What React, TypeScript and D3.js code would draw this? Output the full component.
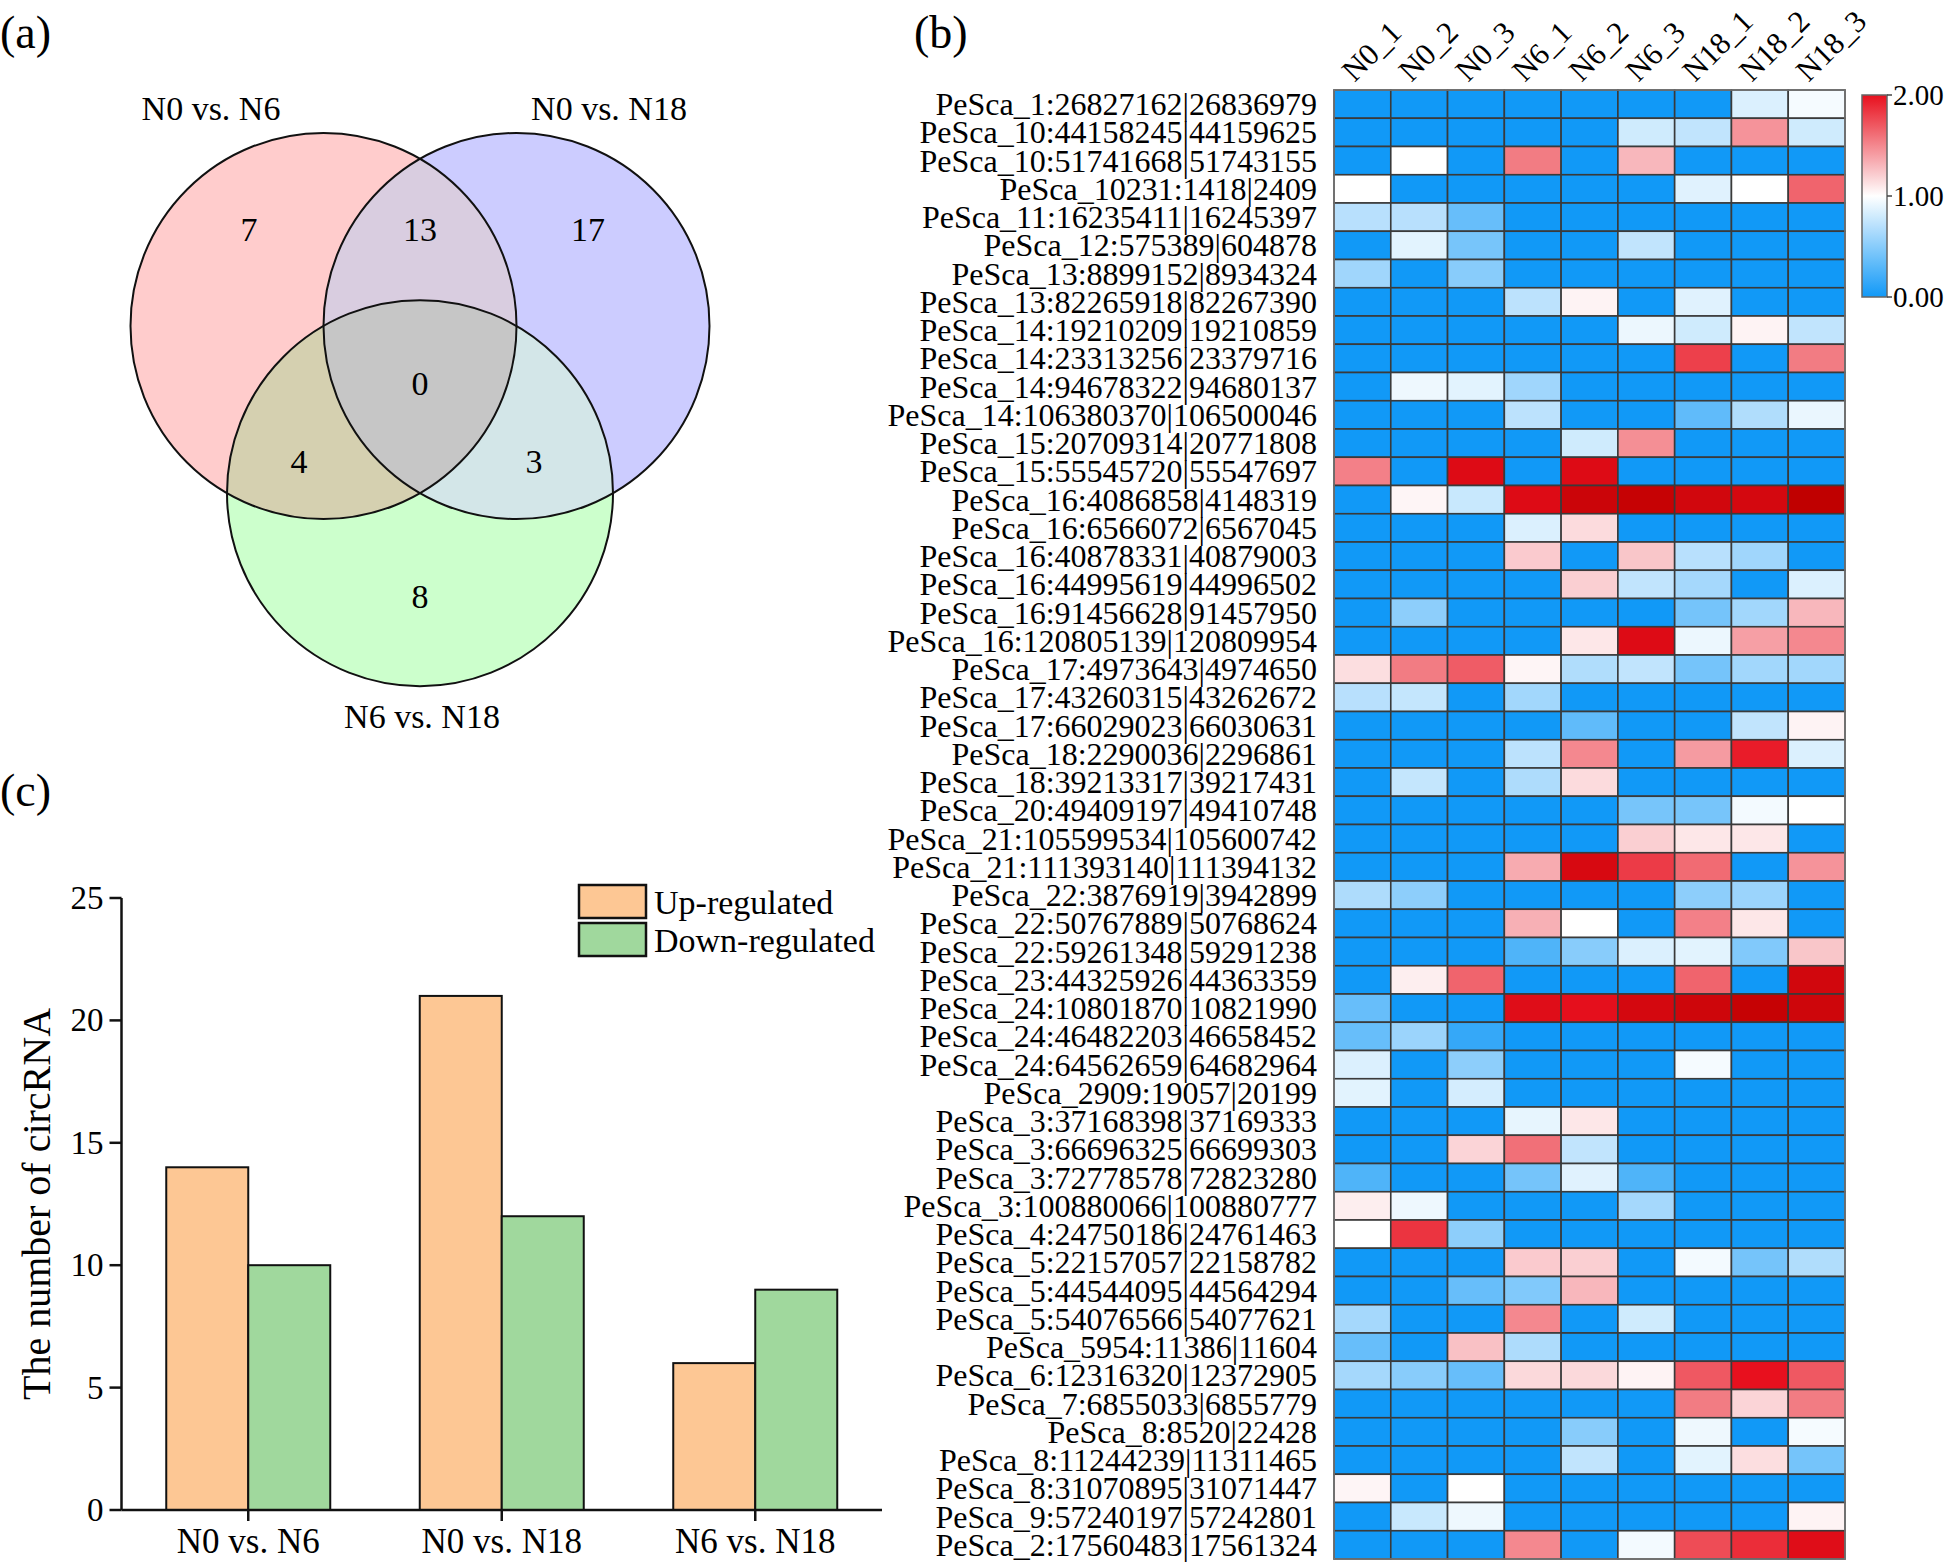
import React from "react";
import * as d3 from "d3";

// ---------------- data ----------------
const vennSetNames = ["N0 vs. N6", "N0 vs. N18", "N6 vs. N18"];
const vennRegionKeys = ["A", "AB", "B", "ABC", "AC", "BC", "C"];
const vennRegionCounts = [7, 13, 17, 0, 4, 3, 8];

const barCategories = ["N0 vs. N6", "N0 vs. N18", "N6 vs. N18"];
const barSeries = ["Up-regulated", "Down-regulated"];
const upRegulated = [14, 21, 6];
const downRegulated = [10, 12, 9];
const barYTicks = [0, 5, 10, 15, 20, 25];

const heatColumns = ["N0_1", "N0_2", "N0_3", "N6_1", "N6_2", "N6_3", "N18_1", "N18_2", "N18_3"];
const heatRows = [
  "PeSca_1:26827162|26836979",
  "PeSca_10:44158245|44159625",
  "PeSca_10:51741668|51743155",
  "PeSca_10231:1418|2409",
  "PeSca_11:16235411|16245397",
  "PeSca_12:575389|604878",
  "PeSca_13:8899152|8934324",
  "PeSca_13:82265918|82267390",
  "PeSca_14:19210209|19210859",
  "PeSca_14:23313256|23379716",
  "PeSca_14:94678322|94680137",
  "PeSca_14:106380370|106500046",
  "PeSca_15:20709314|20771808",
  "PeSca_15:55545720|55547697",
  "PeSca_16:4086858|4148319",
  "PeSca_16:6566072|6567045",
  "PeSca_16:40878331|40879003",
  "PeSca_16:44995619|44996502",
  "PeSca_16:91456628|91457950",
  "PeSca_16:120805139|120809954",
  "PeSca_17:4973643|4974650",
  "PeSca_17:43260315|43262672",
  "PeSca_17:66029023|66030631",
  "PeSca_18:2290036|2296861",
  "PeSca_18:39213317|39217431",
  "PeSca_20:49409197|49410748",
  "PeSca_21:105599534|105600742",
  "PeSca_21:111393140|111394132",
  "PeSca_22:3876919|3942899",
  "PeSca_22:50767889|50768624",
  "PeSca_22:59261348|59291238",
  "PeSca_23:44325926|44363359",
  "PeSca_24:10801870|10821990",
  "PeSca_24:46482203|46658452",
  "PeSca_24:64562659|64682964",
  "PeSca_2909:19057|20199",
  "PeSca_3:37168398|37169333",
  "PeSca_3:66696325|66699303",
  "PeSca_3:72778578|72823280",
  "PeSca_3:100880066|100880777",
  "PeSca_4:24750186|24761463",
  "PeSca_5:22157057|22158782",
  "PeSca_5:44544095|44564294",
  "PeSca_5:54076566|54077621",
  "PeSca_5954:11386|11604",
  "PeSca_6:12316320|12372905",
  "PeSca_7:6855033|6855779",
  "PeSca_8:8520|22428",
  "PeSca_8:11244239|11311465",
  "PeSca_8:31070895|31071447",
  "PeSca_9:57240197|57242801",
  "PeSca_2:17560483|17561324",
];
const heatValues = [
  [0, 0, 0, 0, 0, 0, 0, 0.85, 0.96],
  [0, 0, 0, 0, 0, 0.8, 0.74, 1.45, 0.8],
  [0, 1.0, 0, 1.55, 0, 1.3, 0, 0, 0],
  [1.0, 0, 0, 0, 0, 0, 0.87, 1.0, 1.65],
  [0.7, 0.7, 0.36, 0, 0, 0, 0, 0, 0],
  [0, 0.88, 0.43, 0, 0, 0.74, 0, 0, 0],
  [0.6, 0, 0.5, 0, 0, 0, 0, 0, 0],
  [0, 0, 0, 0.72, 1.05, 0, 0.87, 0, 0],
  [0, 0, 0, 0, 0, 0.92, 0.8, 1.05, 0.74],
  [0, 0, 0, 0, 0, 0, 1.8, 0, 1.55],
  [0, 0.93, 0.88, 0.6, 0, 0, 0, 0, 0],
  [0, 0, 0, 0.72, 0, 0, 0.33, 0.67, 0.91],
  [0, 0, 0, 0, 0.8, 1.47, 0, 0, 0],
  [1.53, 0, 2.2, 0, 2.2, 0, 0, 0, 0],
  [0, 1.04, 0.77, 2.2, 2.5, 2.6, 2.4, 2.35, 2.7],
  [0, 0, 0, 0.85, 1.15, 0, 0, 0, 0],
  [0, 0, 0, 1.22, 0, 1.24, 0.7, 0.6, 0],
  [0, 0, 0, 0, 1.2, 0.74, 0.62, 0, 0.85],
  [0, 0.52, 0, 0, 0, 0, 0.42, 0.61, 1.3],
  [0, 0, 0, 0, 1.1, 2.2, 0.92, 1.4, 1.5],
  [1.14, 1.55, 1.68, 1.04, 0.67, 0.74, 0.42, 0.61, 0.61],
  [0.7, 0.75, 0, 0.61, 0, 0, 0, 0, 0],
  [0, 0, 0, 0, 0.33, 0, 0, 0.74, 1.05],
  [0, 0, 0, 0.72, 1.5, 0, 1.42, 1.95, 0.85],
  [0, 0.75, 0, 0.66, 1.15, 0, 0, 0, 0],
  [0, 0, 0, 0, 0, 0.43, 0.43, 0.95, 1.0],
  [0, 0, 0, 0, 0, 1.2, 1.1, 1.1, 0],
  [0, 0, 0, 1.35, 2.3, 1.82, 1.62, 0, 1.45],
  [0.66, 0.52, 0, 0, 0, 0, 0.52, 0.58, 0],
  [0, 0, 0, 1.33, 1.0, 0, 1.53, 1.1, 0],
  [0, 0, 0, 0.26, 0.5, 0.85, 0.88, 0.47, 1.24],
  [0, 1.07, 1.65, 0, 0, 0, 1.65, 0, 2.4],
  [0.36, 0, 0, 2.15, 2.05, 2.35, 2.45, 2.6, 2.45],
  [0.36, 0.58, 0.15, 0, 0, 0, 0, 0, 0],
  [0.85, 0, 0.52, 0, 0, 0, 0.96, 0, 0],
  [0.88, 0, 0.82, 0, 0, 0, 0, 0, 0],
  [0, 0, 0, 0.9, 1.1, 0, 0, 0, 0],
  [0, 0, 1.18, 1.6, 0.74, 0, 0, 0, 0],
  [0.26, 0, 0, 0.42, 0.87, 0.26, 0, 0, 0],
  [1.07, 0.93, 0, 0, 0, 0.62, 0, 0, 0],
  [1.0, 1.85, 0.52, 0, 0, 0, 0, 0, 0],
  [0, 0, 0, 1.22, 1.2, 0, 0.95, 0.42, 0.67],
  [0, 0, 0.36, 0.47, 1.3, 0, 0, 0, 0],
  [0.62, 0, 0, 1.5, 0, 0.8, 0, 0, 0],
  [0.36, 0, 1.26, 0.66, 0, 0, 0, 0, 0],
  [0.62, 0.5, 0.36, 1.16, 1.16, 1.05, 1.7, 2.0, 1.7],
  [0, 0, 0, 0, 0, 0, 1.55, 1.18, 1.55],
  [0, 0, 0, 0, 0.5, 0, 0.93, 0, 0.96],
  [0, 0, 0, 0, 0.74, 0, 0.88, 1.14, 0.42],
  [1.04, 0, 1.0, 0, 0, 0, 0, 0, 0],
  [0, 0.77, 0.93, 0, 0, 0, 0, 0, 1.05],
  [0, 0, 0, 1.5, 0, 0.95, 1.75, 1.88, 2.15],
];
const heatLegendTicks = [0, 1, 2];

// ---------------- layout / style ----------------
const W = 1944;
const H = 1562;
const FONT = "'Liberation Serif', 'Times New Roman', Times, serif";

const heatColor = d3
  .scaleLinear<string>()
  .domain([0, 1, 2, 2.7])
  .range(["#1199f7", "#ffffff", "#e8101e", "#c00000"])
  .clamp(true);

function Venn() {
  const cx = 420;
  const cy = 326;
  const r = 193;
  const A: [number, number] = [cx - r / 2, cy];
  const B: [number, number] = [cx + r / 2, cy];
  const C: [number, number] = [cx, cy + (r * Math.sqrt(3)) / 2];
  const regionPos: Record<string, [number, number]> = {
    A: [-171, -97],
    AB: [0, -97],
    B: [168, -97],
    ABC: [0, 57],
    AC: [-121, 135],
    BC: [114, 135],
    C: [0, 270],
  };
  const labelPos: [number, number][] = [
    [-209, -206],
    [189, -206],
    [2, 402],
  ];
  const circ = (c: [number, number], props: any = {}) => (
    <circle cx={c[0]} cy={c[1]} r={r} {...props} />
  );
  return (
    <g>
      <defs>
        <clipPath id="vclipA">{circ(A)}</clipPath>
        <clipPath id="vclipB">{circ(B)}</clipPath>
      </defs>
      {circ(A, { fill: "#ffcccc" })}
      {circ(B, { fill: "#ccccff" })}
      {circ(C, { fill: "#ccffcc" })}
      {circ(B, { fill: "#d9cde0", clipPath: "url(#vclipA)" })}
      {circ(C, { fill: "#d5d0b0", clipPath: "url(#vclipA)" })}
      {circ(C, { fill: "#d3e6e8", clipPath: "url(#vclipB)" })}
      <g clipPath="url(#vclipA)">{circ(C, { fill: "#c6c6c6", clipPath: "url(#vclipB)" })}</g>
      {[A, B, C].map((c, i) => (
        <React.Fragment key={i}>{circ(c, { fill: "none", stroke: "#111", strokeWidth: 2 })}</React.Fragment>
      ))}
      {vennRegionKeys.map((k, i) => (
        <text
          key={k}
          x={cx + regionPos[k][0]}
          y={cy + regionPos[k][1]}
          fontSize={34}
          fontFamily={FONT}
          textAnchor="middle"
          dominantBaseline="central"
        >
          {vennRegionCounts[i]}
        </text>
      ))}
      {vennSetNames.map((n, i) => (
        <text
          key={n}
          x={cx + labelPos[i][0]}
          y={cy + labelPos[i][1]}
          fontSize={34}
          fontFamily={FONT}
          textAnchor="middle"
        >
          {n}
        </text>
      ))}
    </g>
  );
}

function Bars() {
  const x0 = 121.5;
  const x1 = 882;
  const y = d3.scaleLinear().domain([0, 25]).range([1510, 898]);
  const xb = d3.scaleBand().domain(barCategories).range([x0, x1]).padding(0);
  const barW = 82;
  const inner = d3.scaleBand().domain(barSeries).range([-barW, barW]).padding(0);
  const colors = ["#fdc794", "#a0d89d"];
  const seriesData = [upRegulated, downRegulated];
  return (
    <g fontFamily={FONT}>
      {barCategories.map((c, ci) =>
        barSeries.map((s, si) => {
          const cxm = (xb(c) as number) + xb.bandwidth() / 2;
          const v = seriesData[si][ci];
          return (
            <rect
              key={c + s}
              x={cxm + (inner(s) as number)}
              y={y(v)}
              width={inner.bandwidth()}
              height={y(0) - y(v)}
              fill={colors[si]}
              stroke="#111"
              strokeWidth={2}
            />
          );
        })
      )}
      {/* y axis */}
      <line x1={x0} x2={x0} y1={y(25)} y2={y(0)} stroke="#111" strokeWidth={2.5} />
      {barYTicks.map((t) => (
        <g key={t}>
          <line x1={x0 - 12} x2={x0} y1={y(t)} y2={y(t)} stroke="#111" strokeWidth={2.5} />
          <text x={x0 - 18} y={y(t)} fontSize={33} textAnchor="end" dominantBaseline="central">
            {t}
          </text>
        </g>
      ))}
      {/* x axis */}
      <line x1={x0} x2={x1} y1={y(0)} y2={y(0)} stroke="#111" strokeWidth={2.5} />
      {barCategories.map((c) => {
        const cxm = (xb(c) as number) + xb.bandwidth() / 2;
        return (
          <g key={c}>
            <line x1={cxm} x2={cxm} y1={y(0)} y2={y(0) + 11} stroke="#111" strokeWidth={2.5} />
            <text x={cxm} y={1553} fontSize={35} textAnchor="middle">
              {c}
            </text>
          </g>
        );
      })}
      <text
        transform={`translate(50,${(y(0) + y(25)) / 2}) rotate(-90)`}
        fontSize={40}
        textAnchor="middle"
      >
        The number of circRNA
      </text>
      {/* legend */}
      {barSeries.map((s, i) => (
        <g key={s}>
          <rect x={579} y={885 + i * 38} width={67} height={33} fill={colors[i]} stroke="#111" strokeWidth={2.5} />
          <text x={654} y={902 + i * 38} fontSize={34} dominantBaseline="central">
            {s}
          </text>
        </g>
      ))}
    </g>
  );
}

function Heatmap() {
  const xh = d3.scaleBand().domain(heatColumns).range([1334, 1845]);
  const yh = d3
    .scaleBand()
    .domain(heatRows.map((_, i) => String(i)))
    .range([90, 1559]);
  const legY = d3.scaleLinear().domain([0, 2]).range([297, 95]);
  const legX = 1862;
  const legW = 25;
  const stops = d3.range(0, 2.0001, 0.1);
  return (
    <g fontFamily={FONT}>
      <defs>
        <linearGradient id="heatGrad" x1="0" y1="1" x2="0" y2="0">
          {stops.map((s) => (
            <stop key={s} offset={`${(s / 2) * 100}%`} stopColor={heatColor(s)} />
          ))}
        </linearGradient>
      </defs>
      {heatValues.map((row, ri) =>
        row.map((v, ci) => (
          <rect
            key={ri + "-" + ci}
            x={xh(heatColumns[ci])}
            y={yh(String(ri))}
            width={xh.bandwidth()}
            height={yh.bandwidth()}
            fill={heatColor(v)}
            stroke="#3a3a3a"
            strokeWidth={1.6}
          />
        ))
      )}
      <rect x={1334} y={90} width={511} height={1469} fill="none" stroke="#777" strokeWidth={1.5} />
      {heatRows.map((lab, ri) => (
        <text
          key={lab}
          x={1317}
          y={(yh(String(ri)) as number) + yh.bandwidth() / 2}
          fontSize={32}
          textAnchor="end"
          dominantBaseline="central"
        >
          {lab}
        </text>
      ))}
      {heatColumns.map((c) => {
        const cx = (xh(c) as number) + xh.bandwidth() / 2;
        return (
          <text key={c} transform={`translate(${cx - 8},83) rotate(-45)`} fontSize={31}>
            {c}
          </text>
        );
      })}
      {/* color legend */}
      <rect x={legX} y={legY(2)} width={legW} height={legY(0) - legY(2)} fill="url(#heatGrad)" stroke="#666" strokeWidth={1.5} />
      {heatLegendTicks.map((t) => (
        <g key={t}>
          <line x1={legX + legW} x2={legX + legW + 5} y1={legY(t)} y2={legY(t)} stroke="#444" strokeWidth={1.5} />
          <text x={legX + legW + 6} y={legY(t)} fontSize={29} dominantBaseline="central">
            {t.toFixed(2)}
          </text>
        </g>
      ))}
    </g>
  );
}

export default function App() {
  return (
    <svg
      width={W}
      height={H}
      viewBox={`0 0 ${W} ${H}`}
      style={{ position: "absolute", left: 0, top: 0, background: "#fff" }}
    >
      <rect x={0} y={0} width={W} height={H} fill="#fff" />
      <text x={0} y={48} fontSize={46} fontFamily={FONT}>(a)</text>
      <text x={914} y={48} fontSize={46} fontFamily={FONT}>(b)</text>
      <text x={0} y={806} fontSize={46} fontFamily={FONT}>(c)</text>
      <Venn />
      <Bars />
      <Heatmap />
    </svg>
  );
}
